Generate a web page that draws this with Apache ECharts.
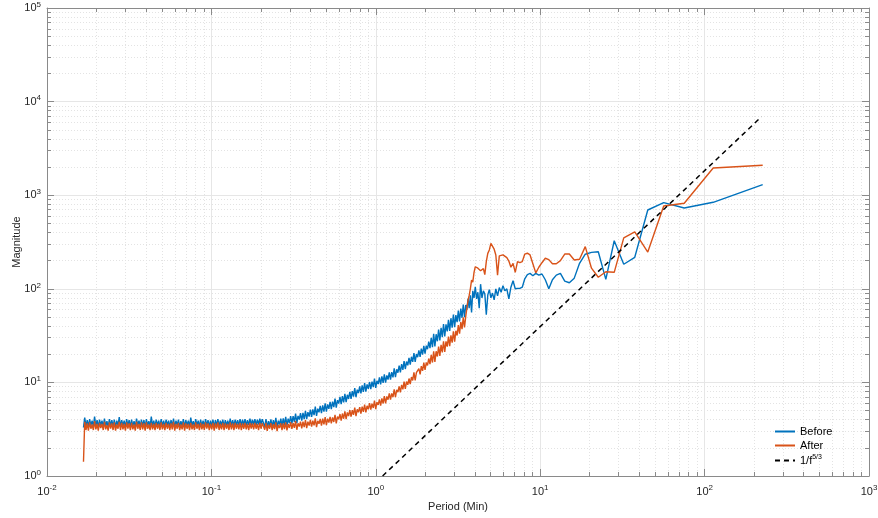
<!DOCTYPE html>
<html>
<head>
<meta charset="utf-8">
<script src="https://cdn.jsdelivr.net/npm/echarts@6/dist/echarts.min.js"></script>
<style>
  html, body { margin: 0; padding: 0; background: #fff; }
  #spectrum { width: 878px; height: 518px; }
</style>
</head>
<body>
<div id="spectrum"></div>
<script>
// period (min) of each bin, split in three stretches: flat part, rising part, long periods
var periodsFlat = [0.01667, 0.01696, 0.01726, 0.01756, 0.01786, 0.01817, 0.01849, 0.01881, 0.01914, 0.01947,
  0.01982, 0.02016, 0.02051, 0.02087, 0.02123, 0.0216, 0.02198, 0.02236, 0.02275, 0.02315,
  0.02355, 0.02396, 0.02438, 0.0248, 0.02523, 0.02567, 0.02612, 0.02658, 0.02704, 0.02751,
  0.02799, 0.02848, 0.02897, 0.02947, 0.02999, 0.03051, 0.03105, 0.03159, 0.03214, 0.0327,
  0.03327, 0.03385, 0.03443, 0.03503, 0.03565, 0.03627, 0.0369, 0.03754, 0.03819, 0.03886,
  0.03954, 0.04023, 0.04093, 0.04164, 0.04236, 0.0431, 0.04385, 0.04461, 0.04539, 0.04618,
  0.04699, 0.04781, 0.04864, 0.04949, 0.05035, 0.05123, 0.05212, 0.05303, 0.05395, 0.05489,
  0.05585, 0.05682, 0.05781, 0.05882, 0.05984, 0.06088, 0.06194, 0.06302, 0.06412, 0.06524,
  0.06637, 0.06753, 0.06871, 0.06991, 0.07112, 0.07236, 0.07362, 0.0749, 0.07621, 0.07754,
  0.07889, 0.08026, 0.08166, 0.08308, 0.08453, 0.086, 0.0875, 0.08902, 0.09057, 0.09215,
  0.09376, 0.09539, 0.09705, 0.09874, 0.1005, 0.1022, 0.104, 0.1058, 0.1076, 0.1095,
  0.1114, 0.1133, 0.1153, 0.1173, 0.1194, 0.1215, 0.1236, 0.1258, 0.1279, 0.1301,
  0.1324, 0.1347, 0.1371, 0.1395, 0.1419, 0.1444, 0.1469, 0.1494, 0.1521, 0.1547,
  0.1574, 0.1601, 0.1629, 0.1657, 0.1687, 0.1716, 0.1746, 0.1776, 0.1807, 0.1839,
  0.1871, 0.1903, 0.1936, 0.197, 0.2004, 0.2039]
var beforeFlat = [3.3, 4.2, 3.4, 3.95, 3.35, 4.05, 3.45, 3.9, 3.35, 4.3, 3.4, 3.95, 3.3, 4.0, 3.45, 3.9,
  3.35, 4.1, 3.4, 3.85, 3.3, 4.05, 3.45, 3.95, 3.35, 4.0, 3.3, 3.9, 3.45, 4.25, 3.35, 3.95,
  3.4, 3.9, 3.3, 4.05, 3.45, 3.95, 3.35, 4.0, 3.4, 3.85, 3.3, 4.1, 3.45, 3.9, 3.35, 4.0,
  3.4, 3.95, 3.3, 4.05, 3.45, 3.85, 3.35, 4.3, 3.4, 3.9, 3.35, 4.0, 3.45, 3.9, 3.35, 4.05,
  3.4, 3.9, 3.35, 4.0, 3.45, 3.9, 3.35, 3.95, 3.4, 4.1, 3.3, 3.9, 3.45, 4.0, 3.35, 3.85,
  3.4, 4.05, 3.3, 3.95, 3.45, 3.9, 3.35, 4.2, 3.4, 3.85, 3.35, 4.05, 3.45, 3.9, 3.35, 4.0,
  3.4, 3.9, 3.35, 4.05, 3.45, 3.95, 3.35, 3.9, 3.4, 4.0, 3.3, 3.95, 3.45, 4.05, 3.35, 3.9,
  3.45, 4.0, 3.35, 3.95, 3.45, 3.9, 3.4, 4.1, 3.45, 3.95, 3.4, 4.0, 3.5, 3.95, 3.45, 4.05,
  3.45, 4.0, 3.5, 4.05, 3.45, 3.95, 3.5, 4.1, 3.5, 4.0, 3.55, 4.05, 3.5, 4.0, 3.55, 4.1, 3.55, 4.05]
var afterFlat = [1.42, 3.8, 3.1, 3.65, 3.05, 3.75, 3.2, 3.55, 3.1, 3.85, 3.15, 3.6, 3.05, 3.7, 3.25, 3.6,
  3.1, 3.8, 3.15, 3.5, 3.05, 3.75, 3.2, 3.65, 3.1, 3.75, 3.05, 3.55, 3.2, 3.8, 3.1, 3.7,
  3.15, 3.6, 3.05, 3.75, 3.2, 3.65, 3.1, 3.7, 3.15, 3.55, 3.05, 3.8, 3.2, 3.6, 3.1, 3.75,
  3.15, 3.65, 3.05, 3.75, 3.2, 3.55, 3.1, 3.7, 3.15, 3.6, 3.1, 3.7, 3.2, 3.6, 3.1, 3.75,
  3.15, 3.6, 3.1, 3.7, 3.2, 3.6, 3.1, 3.65, 3.15, 3.8, 3.05, 3.6, 3.2, 3.7, 3.1, 3.55,
  3.15, 3.75, 3.05, 3.65, 3.2, 3.6, 3.1, 3.7, 3.15, 3.55, 3.1, 3.75, 3.2, 3.6, 3.1, 3.7,
  3.15, 3.6, 3.1, 3.75, 3.2, 3.65, 3.1, 3.6, 3.15, 3.7, 3.05, 3.65, 3.2, 3.75, 3.1, 3.6,
  3.15, 3.7, 3.1, 3.65, 3.2, 3.6, 3.1, 3.75, 3.15, 3.65, 3.1, 3.7, 3.2, 3.6, 3.15, 3.7,
  3.1, 3.65, 3.2, 3.7, 3.15, 3.6, 3.1, 3.7, 3.2, 3.65, 3.15, 3.7, 3.2, 3.6, 3.1, 3.7, 3.2, 3.65]

var periodsRise = [0.2075, 0.2111, 0.2148, 0.2185, 0.2223, 0.2262, 0.2301, 0.2341, 0.2382, 0.2424,
  0.2466, 0.2509, 0.2553, 0.2597, 0.2642, 0.2688, 0.2735, 0.2783, 0.2831, 0.2881,
  0.2931, 0.2982, 0.3034, 0.3087, 0.3141, 0.3196, 0.3251, 0.3308, 0.3365, 0.3424,
  0.3483, 0.3544, 0.3606, 0.3669, 0.3733, 0.3798, 0.3864, 0.3931, 0.4, 0.407,
  0.414, 0.4212, 0.4285, 0.436, 0.4436, 0.4513, 0.4592, 0.4672, 0.4753, 0.4836,
  0.492, 0.5006, 0.5093, 0.5182, 0.5272, 0.5364, 0.5458, 0.5553, 0.5649, 0.5747,
  0.5848, 0.595, 0.6053, 0.6158, 0.6266, 0.6375, 0.6486, 0.6599, 0.6714, 0.6831,
  0.695, 0.7071, 0.7194, 0.7319, 0.7447, 0.7577, 0.7709, 0.7843, 0.798, 0.8119,
  0.826, 0.8404, 0.8551, 0.87, 0.8851, 0.9005, 0.9162, 0.9322, 0.9484, 0.9649,
  0.9817, 0.9988, 1.016, 1.034, 1.052, 1.07, 1.089, 1.108, 1.127, 1.147,
  1.167, 1.187, 1.208, 1.229, 1.25, 1.272, 1.294, 1.317, 1.34, 1.363,
  1.387, 1.411, 1.436, 1.461, 1.486, 1.512, 1.538, 1.565, 1.592, 1.62,
  1.648, 1.677, 1.706, 1.736, 1.766, 1.797, 1.828, 1.86, 1.892, 1.925,
  1.959, 1.993, 2.028, 2.063, 2.099, 2.136, 2.173, 2.211, 2.249, 2.288,
  2.328, 2.369, 2.41, 2.452, 2.495, 2.538, 2.582, 2.627, 2.673, 2.72,
  2.767, 2.815, 2.864, 2.914, 2.965, 3.017, 3.069, 3.123, 3.177, 3.232,
  3.289, 3.346, 3.404, 3.464, 3.524]
var beforeRise = [3.92, 3.32, 4.05, 3.26, 3.85, 3.42, 4.02, 3.33, 3.96, 3.42,
  4.17, 3.29, 3.9, 3.54, 4.11, 3.42, 4.12, 3.5, 4.28, 3.46,
  4.09, 3.67, 4.35, 3.63, 4.35, 3.78, 4.63, 3.68, 4.39, 4.01,
  4.69, 3.91, 4.73, 4.04, 4.97, 4.04, 4.82, 4.32, 5.13, 4.29,
  5.15, 4.48, 5.51, 4.39, 5.24, 4.79, 5.61, 4.7, 5.69, 4.86,
  5.99, 4.87, 5.81, 5.22, 6.18, 5.18, 6.22, 5.44, 6.72, 5.38,
  6.46, 5.94, 6.99, 5.87, 7.14, 6.12, 7.56, 6.17, 7.37, 6.65,
  7.92, 6.66, 8.05, 7.04, 8.7, 6.96, 8.35, 7.7, 9.08, 7.62,
  9.27, 7.93, 9.8, 7.98, 9.54, 8.55, 10.1, 8.48, 10.2, 8.9,
  11.0, 8.74, 10.4, 9.6, 11.3, 9.51, 11.6, 9.89, 12.2, 9.95,
  11.9, 10.7, 12.8, 10.7, 12.9, 11.3, 14.1, 11.4, 13.8, 12.7,
  15.1, 12.8, 15.7, 13.6, 16.9, 13.9, 16.7, 15.2, 18.3, 15.5,
  18.8, 16.6, 20.6, 16.6, 20.1, 18.6, 22.0, 18.7, 22.9, 19.8,
  24.6, 20.3, 24.7, 22.6, 27.3, 23.2, 30.0, 23.8, 33.0, 24.2,
  32.7, 27.5, 36.7, 28.0, 38.3, 30.4, 42.1, 30.9, 41.7, 35.1,
  46.6, 35.5, 48.5, 38.5, 53.1, 38.9, 52.4, 44.1, 58.6, 44.9,
  61.6, 49.0, 67.9, 49.7, 67.1]
var afterRise = [3.6, 3.12, 3.7, 3.03, 3.54, 3.2, 3.67, 3.1, 3.57, 3.17,
  3.75, 3.01, 3.52, 3.25, 3.66, 3.09, 3.64, 3.17, 3.75, 3.07,
  3.59, 3.26, 3.76, 3.18, 3.68, 3.27, 3.87, 3.12, 3.65, 3.38,
  3.81, 3.23, 3.81, 3.32, 3.95, 3.24, 3.8, 3.45, 3.98, 3.37,
  3.9, 3.47, 4.12, 3.32, 3.89, 3.61, 4.08, 3.46, 4.09, 3.57,
  4.25, 3.49, 4.1, 3.72, 4.29, 3.64, 4.22, 3.78, 4.51, 3.65,
  4.32, 4.03, 4.59, 3.91, 4.65, 4.09, 4.9, 4.05, 4.78, 4.37,
  5.07, 4.32, 5.04, 4.51, 5.38, 4.36, 5.15, 4.8, 5.45, 4.64,
  5.51, 4.84, 5.78, 4.77, 5.62, 5.15, 6.0, 5.11, 5.94, 5.33,
  6.38, 5.18, 6.14, 5.76, 6.59, 5.64, 6.74, 5.95, 7.15, 5.96,
  7.09, 6.53, 7.63, 6.53, 7.63, 6.96, 8.44, 6.94, 8.32, 7.87,
  9.07, 7.83, 9.42, 8.42, 10.2, 8.55, 10.2, 9.41, 11.0, 9.61,
  11.4, 10.5, 12.8, 10.5, 12.7, 12.1, 14.0, 12.2, 14.9, 13.3,
  16.3, 13.6, 16.3, 15.2, 18.0, 15.7, 19.7, 16.3, 21.5, 16.6,
  21.5, 18.9, 24.1, 19.2, 25.2, 20.9, 27.5, 21.2, 27.4, 24.1,
  30.8, 24.4, 31.9, 26.6, 35.1, 27.3, 35.6, 31.7, 41.0, 33.2,
  44.2, 37.1, 49.5, 38.7, 50.8]

var periodsTail = [3.581, 3.639, 3.698, 3.76, 3.824, 3.89, 3.958, 4.029, 4.102, 4.178,
  4.257, 4.338, 4.424, 4.512, 4.604, 4.7, 4.8, 4.904, 5.013, 5.127,
  5.247, 5.371, 5.502, 5.64, 5.785, 5.937, 6.097, 6.267, 6.446, 6.635,
  6.836, 7.05, 7.277, 7.52, 7.779, 8.057, 8.356, 8.677, 9.024, 9.4,
  9.809, 10.25, 10.74, 11.28, 11.87, 12.53, 13.27, 14.1, 15.04, 16.11,
  17.35, 18.8, 20.51, 22.56, 25.07, 28.2, 32.23, 37.6, 45.12, 56.4,
  75.2, 112.8, 225.6]
var beforeTail = [60, 78, 62, 85, 56, 95, 80, 105, 78, 92,
  62, 112, 80, 95, 88, 53, 86, 98, 80, 90,
  76, 100, 84, 103, 92, 108, 95, 100, 78, 104,
  122, 100, 101, 101, 104, 128, 142, 146, 138, 146,
  140, 144, 125, 100, 125, 140, 146, 121, 116, 130,
  187, 234, 245, 249, 126, 326, 183, 217, 695, 832,
  730, 840, 1295]
var afterTail = [62, 75, 85, 100, 124, 118, 150, 172, 168, 166,
  160, 156, 150, 164, 142, 195, 239, 260, 306, 300,
  265, 230, 140, 225, 228, 230, 224, 215, 198, 170,
  187, 150, 195, 190, 195, 235, 240, 230, 185, 148,
  170, 190, 212, 205, 185, 185, 200, 235, 235, 203,
  207, 282, 166, 133, 152, 150, 350, 405, 247, 767,
  819, 1953, 2086]

// reference slope line, 1/f^(5/3)
var slopePeriods = [1.1, 222]
var slopeValues = [1, 6900]

var FONT = "'Liberation Sans', Helvetica, Arial, sans-serif"
var AXIS_GREY = '#8a8a8a'

window.onload = function () {
  var chart = echarts.init(document.getElementById('spectrum'))

  function pairs(xs, ys) {
    return xs.map((x, i) => [x, ys[i]])
  }
  var beforeData = pairs(periodsFlat, beforeFlat).concat(pairs(periodsRise, beforeRise), pairs(periodsTail, beforeTail))
  var afterData = pairs(periodsFlat, afterFlat).concat(pairs(periodsRise, afterRise), pairs(periodsTail, afterTail))
  var slopeData = pairs(slopePeriods, slopeValues)

  function powLabel(v) {
    return '10{sup|' + Math.round(Math.log10(v)) + '}'
  }
  var labelRich = {
    sup: { fontSize: 8, fontFamily: FONT, color: '#262626', padding: [0, 0, 7, 0] }
  }

  function logAxis(pos, lo, hi, withLabels) {
    return {
      type: 'log',
      logBase: 10,
      position: pos,
      min: lo,
      max: hi,
      axisLine: { show: true, onZero: false, lineStyle: { color: AXIS_GREY, width: 1 } },
      axisTick: { show: true, inside: true, length: 7, lineStyle: { color: AXIS_GREY } },
      minorTick: { show: true, splitNumber: 9, length: 4, lineStyle: { color: AXIS_GREY } },
      splitLine: { show: withLabels, lineStyle: { color: '#e6e6e6', width: 1 } },
      minorSplitLine: { show: withLabels, lineStyle: { color: '#e3e3e3', type: [1, 2] } },
      axisLabel: {
        show: withLabels,
        formatter: powLabel,
        fontSize: 11,
        fontFamily: FONT,
        color: '#262626',
        rich: labelRich
      }
    }
  }

  var xBottom = logAxis('bottom', 0.01, 1000, true)
  xBottom.name = 'Period (Min)'
  xBottom.nameLocation = 'middle'
  xBottom.nameGap = 23
  xBottom.nameTextStyle = { fontSize: 11, fontFamily: FONT, color: '#262626' }
  xBottom.axisLabel.margin = 8

  var yLeft = logAxis('left', 1, 100000, true)
  yLeft.name = 'Magnitude'
  yLeft.nameLocation = 'middle'
  yLeft.nameGap = 25
  yLeft.nameMoveOverlap = false
  yLeft.nameTextStyle = { fontSize: 11, fontFamily: FONT, color: '#262626' }
  yLeft.axisLabel.margin = 6

  var option = {
    animation: false,
    backgroundColor: '#fff',
    grid: { left: 47, right: 9, top: 8, bottom: 42, containLabel: false, outerBoundsMode: 'none' },
    xAxis: [xBottom, logAxis('top', 0.01, 1000, false)],
    yAxis: [yLeft, logAxis('right', 1, 100000, false)],
    legend: {
      orient: 'vertical',
      left: 774,
      top: 426,
      padding: 0,
      itemWidth: 20,
      itemHeight: 8,
      itemGap: 3,
      itemStyle: { opacity: 0 },
      data: ['Before', 'After', '1/f5/3'],
      formatter: function (name) {
        return name == '1/f5/3' ? '1/f{sup|5/3}' : name
      },
      textStyle: {
        fontSize: 11,
        lineHeight: 11,
        fontFamily: FONT,
        color: '#000',
        rich: { sup: { fontSize: 7, fontFamily: FONT, color: '#000', padding: [0, 0, 6, 0] } }
      }
    },
    series: [
      {
        name: 'Before',
        type: 'line',
        xAxisIndex: 0,
        yAxisIndex: 0,
        data: beforeData,
        showSymbol: false,
        symbol: 'none',
        lineStyle: { color: '#0072BD', width: 1.4 },
        itemStyle: { color: '#0072BD' }
      },
      {
        name: 'After',
        type: 'line',
        data: afterData,
        showSymbol: false,
        symbol: 'none',
        lineStyle: { color: '#D95319', width: 1.4 },
        itemStyle: { color: '#D95319' }
      },
      {
        name: '1/f5/3',
        type: 'line',
        data: slopeData,
        showSymbol: false,
        symbol: 'none',
        lineStyle: { color: '#000', width: 1.5, type: [5, 4] },
        itemStyle: { color: '#000' }
      }
    ]
  }

  chart.setOption(option)
}
</script>
</body>
</html>
